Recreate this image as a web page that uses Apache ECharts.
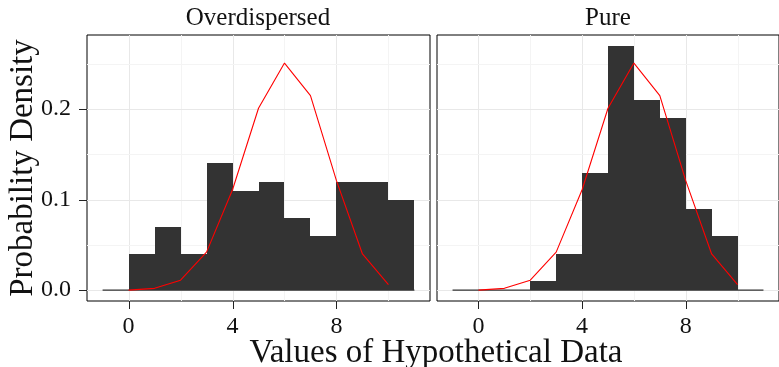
<!DOCTYPE html>
<html>
<head>
<meta charset="utf-8">
<script src="https://cdn.jsdelivr.net/npm/echarts@6/dist/echarts.min.js"></script>
<style>
  html, body { margin: 0; padding: 0; background: #fff; }
  #chart { width: 779px; height: 367px; }
</style>
</head>
<body>
<div id="chart"></div>
<script>
// Histogram bins (left edge of each unit-width bin)
const binStarts = [0, 1, 2, 3, 4, 5, 6, 7, 8, 9, 10];
const binWidth = 1;
// Observed densities per bin
const overdispersed = [0.04, 0.07, 0.04, 0.14, 0.11, 0.12, 0.08, 0.06, 0.12, 0.12, 0.10];
const pure = [0, 0, 0.01, 0.04, 0.13, 0.27, 0.21, 0.19, 0.09, 0.06, 0];
// Reference binomial probabilities at each count
const countValues = [0, 1, 2, 3, 4, 5, 6, 7, 8, 9, 10];
const binomialProb = [0.000, 0.002, 0.011, 0.042, 0.111, 0.201, 0.251, 0.215, 0.121, 0.040, 0.006];
// Extent of the zero baseline
const baselineRange = [-1, 11];
// Panels and ticks
const panelNames = ['Overdispersed', 'Pure'];
const xTicks = [0, 4, 8];
const xMinorTicks = [2, 6, 10];
const yTicks = [0, 0.1, 0.2];
const yMinorTicks = [0.05, 0.15, 0.25];

const FONT = '"Liberation Serif", "DejaVu Serif", serif';
const panelData = [overdispersed, pure];
const MAJOR_GRID = '#e8e8e8';
const MINOR_GRID = '#f4f4f4';
const TICK_LEN = 8;

const chart = echarts.init(document.getElementById('chart'), null, { renderer: 'canvas' });

const gridBoxes = [
  { left: 87, top: 35, width: 343, height: 266 },
  { left: 437, top: 35, width: 343, height: 266 }
];
const grids = gridBoxes.map(g => Object.assign({}, g, { show: true, borderColor: '#000', borderWidth: 1, backgroundColor: '#fff', containLabel: false }));

const xAxes = grids.map((g, i) => ({
  type: 'value', gridIndex: i, min: -1.6, max: 11.6, position: 'bottom',
  axisLine: { show: false, onZero: false },
  splitLine: { show: false },
  axisTick: { show: false },
  axisLabel: { show: true, customValues: xTicks, margin: 14, color: '#111', fontFamily: FONT, fontSize: 24 }
}));

const yAxes = grids.map((g, i) => ({
  type: 'value', gridIndex: i, min: -0.012, max: 0.282, position: 'left',
  axisLine: { show: false, onZero: false },
  splitLine: { show: false },
  axisTick: { show: false },
  axisLabel: {
    show: i === 0, customValues: yTicks, margin: 16, color: '#111', fontFamily: FONT, fontSize: 24,
    formatter: v => v.toFixed(1)
  }
}));

// Vertical grid line at data value x, spanning the panel
function renderVLine(params, api) {
  const cs = params.coordSys;
  const x = Math.round(api.coord([api.value(0), 0])[0]) + 0.5;
  return {
    type: 'line',
    shape: { x1: x, y1: cs.y, x2: x, y2: cs.y + cs.height },
    style: { stroke: api.value(1) ? MAJOR_GRID : MINOR_GRID, lineWidth: 1 }
  };
}
// Horizontal grid line at data value y, spanning the panel
function renderHLine(params, api) {
  const cs = params.coordSys;
  const y = Math.round(api.coord([0, api.value(1)])[1]) + 0.5;
  return {
    type: 'line',
    shape: { x1: cs.x, y1: y, x2: cs.x + cs.width, y2: y },
    style: { stroke: api.value(2) ? MAJOR_GRID : MINOR_GRID, lineWidth: 1 }
  };
}

// Histogram bar: edges snapped to whole pixels so neighbouring bins meet without seams
function renderBar(params, api) {
  const x0 = api.value(0), h = api.value(1);
  if (!(h > 0)) return null;
  const p0 = api.coord([x0, 0]);
  const p1 = api.coord([x0 + binWidth, h]);
  const xl = Math.round(p0[0]), xr = Math.round(p1[0]);
  const yt = Math.round(p1[1]), yb = Math.round(p0[1]);
  return {
    type: 'rect',
    shape: { x: xl, y: yt, width: xr - xl, height: yb - yt },
    style: { fill: '#333333' }
  };
}

const series = [];
panelData.forEach((vals, i) => {
  // Background grid lines (minor first, major over them)
  series.push({
    type: 'custom', xAxisIndex: i, yAxisIndex: i, z: 1, silent: true,
    renderItem: renderVLine, encode: { x: 0 },
    data: xMinorTicks.map(v => [v, 0]).concat(xTicks.map(v => [v, 1]))
  });
  series.push({
    type: 'custom', xAxisIndex: i, yAxisIndex: i, z: 1, silent: true,
    renderItem: renderHLine, encode: { y: 1 },
    data: yMinorTicks.map(v => [0, v, 0]).concat(yTicks.map(v => [0, v, 1]))
  });
  // Zero baseline
  series.push({
    type: 'line', xAxisIndex: i, yAxisIndex: i, z: 2, silent: true,
    data: [[baselineRange[0], 0], [baselineRange[1], 0]],
    symbol: 'none', lineStyle: { color: '#333', width: 1.2 }
  });
  // Histogram bars
  series.push({
    type: 'custom', xAxisIndex: i, yAxisIndex: i, z: 3, silent: true,
    renderItem: renderBar,
    encode: { x: 0, y: 1 },
    data: binStarts.map((b, k) => [b, vals[k]])
  });
  // Binomial reference curve
  series.push({
    type: 'line', xAxisIndex: i, yAxisIndex: i, z: 4, silent: true,
    data: countValues.map((c, k) => [c, binomialProb[k]]),
    symbol: 'none', lineStyle: { color: '#ff0000', width: 1.1 }
  });
});

const textGraphic = [
  { type: 'text', x: 258, y: 18, style: { text: panelNames[0], font: '25px ' + FONT, fill: '#111', textAlign: 'center', textVerticalAlign: 'middle' } },
  { type: 'text', x: 608, y: 18, style: { text: panelNames[1], font: '25px ' + FONT, fill: '#111', textAlign: 'center', textVerticalAlign: 'middle' } },
  { type: 'text', x: 436, y: 353, style: { text: 'Values of Hypothetical Data', font: '33px ' + FONT, fill: '#111', textAlign: 'center', textVerticalAlign: 'middle' } },
  { type: 'text', x: 23, y: 168, rotation: Math.PI / 2, style: { text: 'Probability Density', font: '33px ' + FONT, fill: '#111', textAlign: 'center', textVerticalAlign: 'middle' } }
];

chart.setOption({
  animation: false,
  backgroundColor: '#fff',
  grid: grids,
  xAxis: xAxes,
  yAxis: yAxes,
  series: series,
  graphic: textGraphic
});

// Tick marks outside the panels, placed through each panel's axis scales
const tickGraphic = [];
gridBoxes.forEach((box, i) => {
  const bottom = box.top + box.height;
  xTicks.forEach(v => {
    const px = chart.convertToPixel({ gridIndex: i }, [v, 0]);
    const x = Math.round(px[0]);
    tickGraphic.push({ type: 'rect', silent: true, z: 100,
      shape: { x: x, y: bottom, width: 1, height: TICK_LEN },
      style: { fill: '#222' } });
  });
  if (i === 0) {
    yTicks.forEach(v => {
      const py = chart.convertToPixel({ gridIndex: i }, [0, v]);
      const y = Math.round(py[1]);
      tickGraphic.push({ type: 'rect', silent: true, z: 100,
        shape: { x: box.left - TICK_LEN, y: y, width: TICK_LEN, height: 1 },
        style: { fill: '#222' } });
    });
  }
});
chart.setOption({ graphic: { elements: textGraphic.concat(tickGraphic) } });
</script>
</body>
</html>
